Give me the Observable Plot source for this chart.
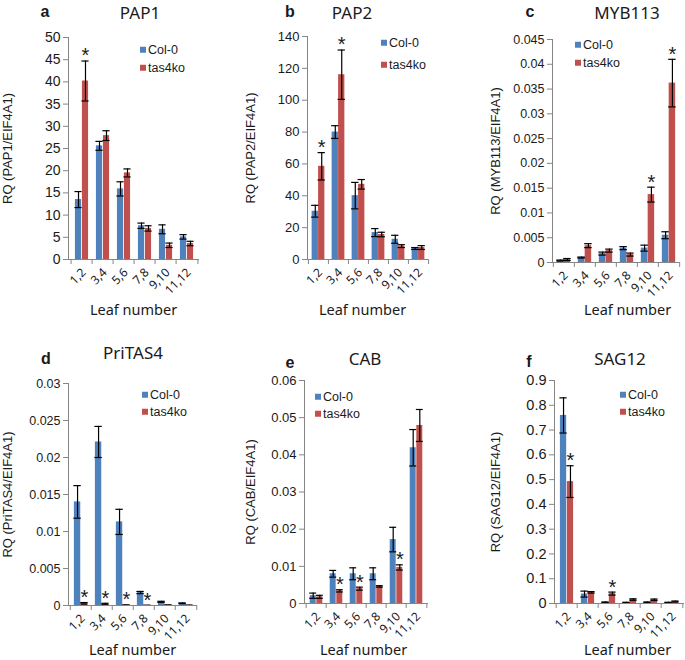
<!DOCTYPE html>
<html>
<head>
<meta charset="utf-8">
<script src="https://cdn.jsdelivr.net/npm/d3@7"></script>
<script src="https://cdn.jsdelivr.net/npm/@observablehq/plot@0.6"></script>
<style>
  body { margin: 0; background: #fff; }
  #fig { position: relative; width: 685px; height: 660px; background: #fff; overflow: hidden;
         font-family: "Liberation Sans", Arial, sans-serif; color: #1a1a1a; }
  .panel { position: absolute; }
  .ttl { position: absolute; font-family: "Noto Sans", sans-serif; font-size: 17px; transform: translate(-50%, -50%); white-space: nowrap; line-height: 1; }
  .lt { position: absolute; font-family: "Liberation Sans", Arial, sans-serif; font-weight: bold; font-size: 16px; transform: translate(-50%, -50%); line-height: 1; }
  .leg { position: absolute; font-size: 12.5px; white-space: nowrap; line-height: 1; transform: translateY(-50%); display: flex; align-items: center; }
  .sw { display: inline-block; width: 6px; height: 6px; margin-right: 2px; }
</style>
</head>
<body>
<div id="fig"></div>
<script>
// ---------- data ----------
const leafGroups = ["1,2", "3,4", "5,6", "7,8", "9,10", "11,12"];
const seriesNames = ["Col-0", "tas4ko"];
const seriesColors = ["#4f81bd", "#c0504d"];

// a: PAP1
const pap1Col    = [13.5, 25.6, 15.9, 7.6, 6.8, 5.1];
const pap1ColErr = [1.8, 1.0, 1.6, 0.6, 1.0, 0.5];
const pap1Tas    = [40.2, 27.9, 19.5, 7.0, 3.2, 3.6];
const pap1TasErr = [4.5, 1.1, 0.9, 0.6, 0.5, 0.5];
const pap1Stars  = ["1,2"];
const pap1Ticks  = [0, 5, 10, 15, 20, 25, 30, 35, 40, 45, 50];

// b: PAP2
const pap2Col    = [30.3, 80, 40.1, 16.9, 12.7, 6.9];
const pap2ColErr = [3.7, 4.0, 8.3, 2.5, 2.5, 0.6];
const pap2Tas    = [58.5, 116, 47.2, 15.7, 8.4, 7.5];
const pap2TasErr = [8.6, 15.5, 3.0, 1.4, 0.9, 1.2];
const pap2Stars  = ["1,2", "3,4"];
const pap2Ticks  = [0, 20, 40, 60, 80, 100, 120, 140];

// c: MYB113
const mybCol    = [0.0004, 0.001, 0.0018, 0.0029, 0.0029, 0.0055];
const mybColErr = [0.0001, 0.0001, 0.0003, 0.0003, 0.0006, 0.0007];
const mybTas    = [0.0006, 0.0034, 0.0024, 0.0016, 0.0137, 0.0362];
const mybTasErr = [0.0002, 0.0004, 0.0003, 0.0003, 0.0015, 0.0048];
const mybStars  = ["9,10", "11,12"];
const mybTicks  = [0, 0.005, 0.01, 0.015, 0.02, 0.025, 0.03, 0.035, 0.04, 0.045];

// d: PriTAS4
const tasCol    = [0.014, 0.0221, 0.0113, 0.00175, 0.0005, 0.0003];
const tasColErr = [0.0022, 0.0021, 0.0017, 0.00015, 0.00007, 0.00005];
const tasTas    = [0.0003, 0.0002, 0.00005, 0.00002, 0.00005, 0.00003];
const tasTasErr = [0.0001, 0.0001, 0.00003, 0.00001, 0.00002, 0.00001];
const tasStars  = ["1,2", "3,4", "5,6", "7,8"];
const tasTicks  = [0, 0.005, 0.01, 0.015, 0.02, 0.025, 0.03];

// e: CAB
const cabCol    = [0.0021, 0.008, 0.008, 0.008, 0.0172, 0.0419];
const cabColErr = [0.0007, 0.0009, 0.0016, 0.0016, 0.0033, 0.0049];
const cabTas    = [0.0018, 0.0034, 0.004, 0.0046, 0.0097, 0.0479];
const cabTasErr = [0.0004, 0.0003, 0.0004, 0.0002, 0.0007, 0.0043];
const cabStars  = ["3,4", "5,6", "9,10"];
const cabTicks  = [0, 0.01, 0.02, 0.03, 0.04, 0.05, 0.06];

// f: SAG12
const sagCol    = [0.759, 0.038, 0.005, 0.004, 0.005, 0.004];
const sagColErr = [0.071, 0.012, 0.001, 0.001, 0.001, 0.001];
const sagTas    = [0.492, 0.045, 0.04, 0.016, 0.015, 0.008];
const sagTasErr = [0.064, 0.003, 0.006, 0.003, 0.003, 0.002];
const sagStars  = ["1,2", "5,6"];
const sagTicks  = [0, 0.1, 0.2, 0.3, 0.4, 0.5, 0.6, 0.7, 0.8, 0.9];

const panels = [
  {letter: "a", gene: "PAP1", ylabel: "RQ (PAP1/EIF4A1)", col: pap1Col, colErr: pap1ColErr, tas: pap1Tas, tasErr: pap1TasErr, stars: pap1Stars, ticks: pap1Ticks},
  {letter: "b", gene: "PAP2", ylabel: "RQ (PAP2/EIF4A1)", col: pap2Col, colErr: pap2ColErr, tas: pap2Tas, tasErr: pap2TasErr, stars: pap2Stars, ticks: pap2Ticks},
  {letter: "c", gene: "MYB113", ylabel: "RQ (MYB113/EIF4A1)", col: mybCol, colErr: mybColErr, tas: mybTas, tasErr: mybTasErr, stars: mybStars, ticks: mybTicks},
  {letter: "d", gene: "PriTAS4", ylabel: "RQ (PriTAS4/EIF4A1)", col: tasCol, colErr: tasColErr, tas: tasTas, tasErr: tasTasErr, stars: tasStars, ticks: tasTicks},
  {letter: "e", gene: "CAB", ylabel: "RQ (CAB/EIF4A1)", col: cabCol, colErr: cabColErr, tas: cabTas, tasErr: cabTasErr, stars: cabStars, ticks: cabTicks},
  {letter: "f", gene: "SAG12", ylabel: "RQ (SAG12/EIF4A1)", col: sagCol, colErr: sagColErr, tas: sagTas, tasErr: sagTasErr, stars: sagStars, ticks: sagTicks}
];

// ---------- layout (page pixels) ----------
const layouts = [
  {left: 0,   top: 0,   w: 228, h: 330, ml: 68,  mr: 29, mt: 37, mb: 71, title: [140, 12], let: [45, 12],  leg: [140, 50, 68],  yl: 7,   xl: [133, 310], tick: 14},
  {left: 225, top: 0,   w: 228, h: 330, ml: 82,  mr: 25, mt: 36, mb: 71, title: [352, 12], let: [290, 12], leg: [381, 43, 65],  yl: 250, xl: [362, 310], tick: 13},
  {left: 450, top: 0,   w: 235, h: 330, ml: 102, mr: 5,  mt: 39, mb: 68, title: [627, 12], let: [530, 12], leg: [575, 45, 63],  yl: 495, xl: [627, 310], tick: 12.5},
  {left: 0,   top: 330, w: 228, h: 330, ml: 68,  mr: 31, mt: 53, mb: 55, title: [133, 352], let: [46, 359], leg: [142, 395, 412], yl: 7,   xl: [132, 650], tick: 12.5},
  {left: 225, top: 330, w: 228, h: 330, ml: 79,  mr: 25, mt: 50, mb: 57, title: [365, 358], let: [290, 363], leg: [315, 397, 414], yl: 250, xl: [363, 650], tick: 13},
  {left: 450, top: 330, w: 235, h: 330, ml: 104, mr: 1,  mt: 50, mb: 57, title: [620, 358], let: [529, 362], leg: [620, 395, 412], yl: 495, xl: [627, 650], tick: 14.5}
];

const axisGray = "#868686";
const ink = "#1a1a1a";
const fmt = d => String(+(+d).toFixed(6));
const fig = document.getElementById("fig");

function addDiv(cls, x, y, text) {
  const el = document.createElement("div");
  el.className = cls;
  el.style.left = x + "px";
  el.style.top = y + "px";
  el.textContent = text;
  fig.appendChild(el);
  return el;
}

panels.forEach((p, k) => {
  const L = layouts[k];
  const innerW = L.w - L.ml - L.mr;
  const innerH = L.h - L.mt - L.mb;
  const bw = innerW / leafGroups.length;
  const half = bw / 2;
  const barW = bw * 0.32;
  const capW = barW + 1;

  const col = leafGroups.map((g, i) => ({g, v: p.col[i], e: p.colErr[i]}));
  const tas = leafGroups.map((g, i) => ({g, v: p.tas[i], e: p.tasErr[i], star: p.stars.includes(g)}));

  const errMarks = (data, side) => {
    const c = side < 0 ? half - barW / 2 : half + barW / 2; // cap center within band
    const capOpts = {x: "g", stroke: "#000", strokeWidth: 1.2, insetLeft: c - capW / 2, insetRight: bw - c - capW / 2};
    return [
      Plot.ruleX(data, {x: "g", y1: d => Math.max(0, d.v - d.e), y2: d => d.v + d.e, dx: side * barW / 2, stroke: "#000", strokeWidth: 1.2}),
      Plot.tickY(data, {...capOpts, y: d => d.v + d.e}),
      Plot.tickY(data, {...capOpts, y: d => Math.max(0, d.v - d.e)})
    ];
  };

  const chart = Plot.plot({
    width: L.w, height: L.h,
    marginLeft: L.ml, marginRight: L.mr, marginTop: L.mt, marginBottom: L.mb,
    style: {fontFamily: "'Liberation Sans', Arial, sans-serif", fontSize: L.tick + "px", color: ink, background: "transparent", overflow: "visible"},
    x: {domain: leafGroups, padding: 0, axis: null},
    y: {domain: [0, d3.max(p.ticks)], axis: null},
    marks: [
      Plot.barY(col, {x: "g", y: "v", fill: seriesColors[0], insetLeft: half - barW, insetRight: half}),
      Plot.barY(tas, {x: "g", y: "v", fill: seriesColors[1], insetLeft: half, insetRight: half - barW}),
      ...errMarks(col, -1),
      ...errMarks(tas, 1),
      Plot.text(tas.filter(d => d.star), {x: "g", y: d => d.v + d.e, text: () => "*", dx: barW / 2, dy: -5, fontSize: 20, fill: ink, lineAnchor: "middle"}),
      Plot.ruleY([0], {stroke: axisGray}),
      Plot.frame({anchor: "left", stroke: axisGray}),
      Plot.axisY({ticks: p.ticks, tickSize: 5, tickPadding: 3, tickFormat: fmt, stroke: axisGray, fill: ink, fontSize: L.tick, label: null}),
      Plot.axisX({tickSize: 5, tickFormat: () => "", dx: -half, stroke: axisGray, label: null}),
      Plot.axisX([leafGroups[leafGroups.length - 1]], {tickSize: 5, tickFormat: () => "", dx: half, stroke: axisGray, label: null}),
      Plot.axisX({tickSize: 0, tickRotate: -45, tickPadding: 4, textAnchor: "end", dx: 2, dy: 7, fontFamily: "'Noto Sans', sans-serif", fontSize: 12, fill: ink, label: null}),
      Plot.text([p.ylabel], {frameAnchor: "left", text: d => d, rotate: -90, textAnchor: "middle", lineAnchor: "middle", dx: L.yl - L.left - L.ml, fontSize: 13, fill: ink}),
      Plot.text(["Leaf number"], {frameAnchor: "bottom", text: d => d, textAnchor: "middle", lineAnchor: "middle", dx: L.xl[0] - (L.left + L.ml + innerW / 2), dy: L.xl[1] - (L.top + L.mt + innerH), fontFamily: "'Noto Sans', sans-serif", fontSize: 14.5, fill: ink})
    ]
  });
  chart.classList.add("panel");
  chart.style.left = L.left + "px";
  chart.style.top = L.top + "px";
  fig.appendChild(chart);

  addDiv("ttl", L.title[0], L.title[1], p.gene);
  addDiv("lt", L.let[0], L.let[1], p.letter);
  seriesNames.forEach((name, j) => {
    const el = addDiv("leg", L.leg[0], L.leg[1 + j], "");
    const sw = document.createElement("span");
    sw.className = "sw";
    sw.style.background = seriesColors[j];
    el.appendChild(sw);
    el.appendChild(document.createTextNode(name));
  });
});
</script>
</body>
</html>
